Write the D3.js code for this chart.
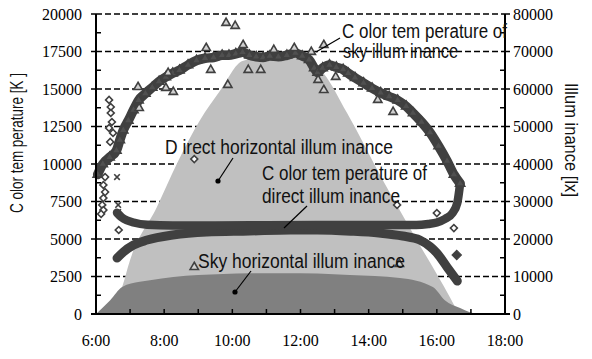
<!DOCTYPE html>
<html>
<head>
<meta charset="utf-8">
<script src="https://cdn.jsdelivr.net/npm/d3@7"></script>
<style>
  html, body { margin: 0; padding: 0; background: #fff; }
  svg { display: block; }
</style>
</head>
<body>
<svg id="chart" width="592" height="359"></svg>
<script>
// ---- Illuminance (right axis, lx) ----
const directIllumTimes = ["6:21","6:46","7:00","7:47","8:23","9:03","9:38","10:18","11:00","11:45","12:15","12:40","13:22","14:25","15:25","16:23","16:39"];
const directIllumValues = [0,7200,14400,28500,40300,51700,59500,67500,68500,68500,67500,64300,53600,35700,19700,4500,0];

const skyIllumTimes = ["6:00","6:25","6:46","7:17","7:35","8:16","9:44","10:31","11:29","12:30","13:27","14:55","15:53","16:14","16:41","16:58","17:12"];
const skyIllumValues = [0,3700,7200,8600,9000,9900,10700,10900,10900,10800,10400,9600,7200,3700,1600,500,0];

// ---- Colour temperature (left axis, K) ----
const skyCTTimes = ["6:03","6:12","6:24","6:36","6:42","6:48","6:57","7:06","7:15","7:27","7:39","7:51","8:03","8:15","8:27","8:42","8:57","9:12","9:27","9:42","9:54","10:06","10:18","10:30","10:42","10:54","11:06","11:21","11:36","11:51","12:03","12:15","12:24","12:30","12:39","12:51","13:03","13:15","13:24","13:36","13:51","14:06","14:21","14:36","14:51","15:06","15:18","15:33","15:48","16:03","16:18","16:30","16:41"];
const skyCTValues = [9300,10000,10450,10900,11600,12250,12900,13600,14250,14700,15100,15500,15800,16050,16250,16600,16900,17050,17100,17250,17250,17350,17450,17250,17150,17100,17200,17150,17250,17400,17200,16950,16400,16100,16400,16600,16450,16300,16050,15750,15400,15050,14750,14500,14250,13850,13400,12800,12100,11200,10200,9300,8700];

const skyCTScatterTimes = ["9:49","10:05","7:14","7:16","8:07","8:16","8:03","9:14","9:22","9:52","10:19","10:28","10:50","11:13","11:49","12:19","12:31","12:41","12:41","13:02","14:16","14:43","8:53","14:54"];
const skyCTScatterValues = [19400,19200,15130,13730,16070,14800,15070,17730,16270,15270,17930,16270,16270,17600,17730,17470,15600,17930,14930,15800,14270,13470,3130,3330];

const directCTTimes = ["6:37","6:45","6:54","7:06","7:30","8:15","9:30","11:00","12:30","14:00","15:24","15:45","16:00","16:15","16:27","16:36","16:41"];
const directCTValues = [6750,6450,6250,6100,5950,5900,5900,5920,5930,5930,5930,6000,6100,6350,6700,7400,8700];

const directCTScatterTimes = ["6:37","6:39","6:39"];
const directCTScatterValues = [9130,7270,6800];

const globalCTTimes = ["6:37","6:48","7:06","7:30","8:15","9:15","10:30","11:42","12:30","13:30","14:18","15:00","15:30","15:48","16:00","16:18","16:36"];
const globalCTValues = [3730,4130,4600,4930,5270,5470,5530,5600,5600,5520,5400,5200,4930,4500,4070,3130,2200];

const globalCTScatterTimes = ["16:35"];
const globalCTScatterValues = [3930];

const twilightCTTimes = ["6:23","6:26","6:26","6:28","6:23","6:30","6:25","6:16","6:13","6:16","6:13","6:11","6:13","6:09","6:40","8:53","14:50","16:00","16:30"];
const twilightCTValues = [14270,13800,13400,12800,12400,12070,11470,9130,8600,8130,7730,7270,6930,6670,5600,10330,7270,6730,5730];

// ---- Axis ticks ----
const ctTicks = [0,2500,5000,7500,10000,12500,15000,17500,20000];
const illumTicks = [0,10000,20000,30000,40000,50000,60000,70000,80000];
const timeTickLabels = ["6:00","8:00","10:00","12:00","14:00","16:00","18:00"];

// ---- Layout ----
const svg = d3.select("#chart");
const L = 96, R = 505, T = 14, B = 314;
const parse = d3.timeParse("%H:%M");
const x = d3.scaleTime().domain([parse("6:00"), parse("18:00")]).range([L, R]);
const yCT = d3.scaleLinear().domain([0, 20000]).range([B, T]);
const yLx = d3.scaleLinear().domain([0, 80000]).range([B, T]);

const zip = (ts, vs) => ts.map((t, i) => ({ t: parse(t), v: vs[i] }));
const dark = "#404040";

// dashed grid at the major colour-temperature ticks
svg.append("g").selectAll("line").data(ctTicks.slice(1)).join("line")
  .attr("x1", L).attr("x2", R)
  .attr("y1", d => yCT(d)).attr("y2", d => yCT(d))
  .attr("stroke", "#000").attr("stroke-width", 1.5).attr("stroke-dasharray", "6,3");

// illuminance areas
const area = d3.area().x(d => x(d.t)).y0(B).y1(d => yLx(d.v)).curve(d3.curveMonotoneX);
svg.append("path").datum(zip(directIllumTimes, directIllumValues))
  .attr("d", area).attr("fill", "#c0c0c0");
svg.append("path").datum(zip(skyIllumTimes, skyIllumValues))
  .attr("d", area).attr("fill", "#808080");

// colour-temperature bands
const ctLine = d3.line().x(d => x(d.t)).y(d => yCT(d.v)).curve(d3.curveMonotoneX);
function band(times, values, w) {
  svg.append("path").datum(zip(times, values))
    .attr("d", ctLine).attr("fill", "none").attr("stroke", dark)
    .attr("stroke-width", w).attr("stroke-linecap", "round").attr("stroke-linejoin", "round");
}
band(globalCTTimes, globalCTValues, 9);
band(directCTTimes, directCTValues, 8.5);
band(skyCTTimes, skyCTValues, 9.5);

function markers(times, values, type, size, opts) {
  svg.append("g").selectAll("path").data(zip(times, values)).join("path")
    .attr("d", d3.symbol().type(type).size(size))
    .attr("transform", d => `translate(${x(d.t)},${yCT(d.v)})` + (opts.rot ? ` rotate(${opts.rot})` : ""))
    .attr("fill", opts.fill || "none")
    .attr("stroke", dark).attr("stroke-width", opts.sw || 1.5);
}
markers(skyCTTimes, skyCTValues, d3.symbolTriangle, 36, { fill: "#505050", sw: 1.6 });
markers(skyCTScatterTimes, skyCTScatterValues, d3.symbolTriangle, 30, { fill: "#d0d0d0", sw: 1.6 });
markers(twilightCTTimes, twilightCTValues, d3.symbolSquare, 24, { rot: 45, fill: "#fff", sw: 1.6 });
markers(directCTScatterTimes, directCTScatterValues, d3.symbolTimes || d3.symbolCross, 22, { rot: d3.symbolTimes ? 0 : 45, sw: 1.6 });
markers(globalCTScatterTimes, globalCTScatterValues, d3.symbolSquare, 45, { rot: 45, fill: dark, sw: 1 });

// axes
const axes = svg.append("g").attr("stroke", "#000");
axes.append("line").attr("x1", L).attr("x2", L).attr("y1", T).attr("y2", B).attr("stroke-width", 2);
axes.append("line").attr("x1", R).attr("x2", R).attr("y1", T).attr("y2", B).attr("stroke-width", 2);
axes.append("line").attr("x1", L - 5).attr("x2", R + 5).attr("y1", B).attr("y2", B).attr("stroke-width", 2);

// left: major ticks outward, minor ticks inward
axes.selectAll(".lmaj").data(ctTicks).join("line")
  .attr("x1", L - 5).attr("x2", L).attr("y1", d => yCT(d)).attr("y2", d => yCT(d)).attr("stroke-width", 1.5);
axes.selectAll(".lmin").data(ctTicks.slice(1).map(d => d - 1250)).join("line")
  .attr("x1", L).attr("x2", L + 5).attr("y1", d => yCT(d)).attr("y2", d => yCT(d)).attr("stroke-width", 1.5);
// right: major ticks outward, minor ticks inward
axes.selectAll(".rmaj").data(illumTicks).join("line")
  .attr("x1", R).attr("x2", R + 5).attr("y1", d => yLx(d)).attr("y2", d => yLx(d)).attr("stroke-width", 1.5);
axes.selectAll(".rmin").data(illumTicks.slice(1).map(d => d - 5000)).join("line")
  .attr("x1", R - 5).attr("x2", R).attr("y1", d => yLx(d)).attr("y2", d => yLx(d)).attr("stroke-width", 1.5);
// bottom: hourly ticks inward
axes.selectAll(".bt").data(d3.timeHour.range(parse("7:00"), parse("18:00"))).join("line")
  .attr("x1", d => x(d)).attr("x2", d => x(d)).attr("y1", B).attr("y2", B - 5).attr("stroke-width", 1.5);

const serif = "'Liberation Serif', 'Times New Roman', serif";
const sans = "'Liberation Sans', Arial, sans-serif";

svg.append("g").selectAll("text").data(ctTicks).join("text")
  .attr("x", 82).attr("y", d => yCT(d) + 5.5).attr("text-anchor", "end")
  .attr("font-family", serif).attr("font-size", 16).text(d => d);
svg.append("g").selectAll("text").data(illumTicks).join("text")
  .attr("x", 513).attr("y", d => yLx(d) + 5.5).attr("text-anchor", "start")
  .attr("font-family", serif).attr("font-size", 16).text(d => d);
svg.append("g").selectAll("text").data(timeTickLabels).join("text")
  .attr("x", d => x(parse(d))).attr("y", 346).attr("text-anchor", "middle")
  .attr("font-family", serif).attr("font-size", 16).text(d => d);

// condensed sans text: glyphs squeezed to a set run length
function label(parent, x0, y0, str, len, size, transform) {
  const t = parent.append("text")
    .attr("font-family", sans).attr("font-size", size).attr("fill", "#111")
    .attr("textLength", len).attr("lengthAdjust", "spacingAndGlyphs").text(str);
  if (transform) t.attr("transform", transform).attr("x", -len / 2).attr("y", 0);
  else t.attr("x", x0).attr("y", y0);
  return t;
}

// axis titles
label(svg, 0, 0, "C olor tem perature [K ]", 140, 19, "translate(23,143) rotate(-90)");
label(svg, 0, 0, "Illum inance [lx]", 114, 19, "translate(565,140) rotate(90)");

// annotations with leader lines
const notes = svg.append("g");
const leader = (x1, y1, x2, y2, dot) => {
  svg.append("line").attr("x1", x1).attr("y1", y1).attr("x2", x2).attr("y2", y2)
    .attr("stroke", "#000").attr("stroke-width", 1.2);
  if (dot) svg.append("circle").attr("cx", x2).attr("cy", y2).attr("r", 2.6).attr("fill", "#000");
};
label(notes, 342, 38, "C olor tem perature of", 165, 20);
label(notes, 343, 58, "sky illum inance", 115, 20);
leader(340, 38, 316, 52, false);

label(notes, 165, 154, "D irect horizontal illum inance", 228, 20);
leader(233, 158, 218, 181, true);

label(notes, 262, 180, "C olor tem perature of", 165, 20);
label(notes, 262, 203, "direct illum inance", 138, 20);
leader(307, 206, 284, 228, false);

label(notes, 198, 268, "Sky horizontal illum inance", 207, 20);
leader(251, 271, 235, 292, true);
</script>
</body>
</html>
